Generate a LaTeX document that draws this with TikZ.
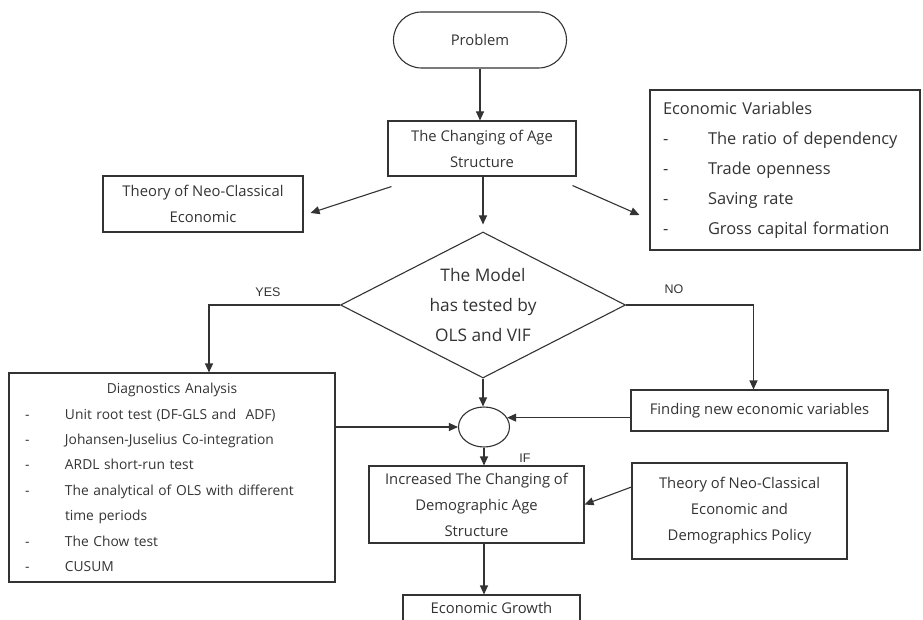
\documentclass[tikz,border=0pt]{standalone}
\usepackage{fontspec}
\setmainfont{Open Sans}
\newfontfamily\labelfont{Liberation Sans}
\usetikzlibrary{arrows.meta,shapes.geometric}

\begin{document}
\begin{tikzpicture}[x=1pt,y=-1pt,line width=1.1pt,color=black!80,
  box/.style={draw,rectangle,inner sep=0pt,align=center,font=\fontsize{14.8}{26}\selectfont},
  terminal/.style={box,rounded corners=28pt,minimum width=173pt,minimum height=56pt},
  decision/.style={draw,diamond,shape aspect=2,inner sep=0pt,minimum width=285pt,minimum height=146pt,
    align=center,font=\fontsize{17.3}{30}\selectfont},
  merge/.style={draw,ellipse,inner sep=0pt,minimum width=51pt,minimum height=40pt},
  lab/.style={font=\labelfont\fontsize{12.5}{14}\selectfont},
  arr/.style={-{Triangle[length=9pt,width=8pt]}}]
  \useasboundingbox (0,0) rectangle (923,620);

  % boxes
  \node[terminal] (problem) at (480,40) {Problem};
  \node[box,minimum width=188pt,minimum height=55pt] (age) at (482,148.5) {The Changing of Age\\Structure};
  \node[box,minimum width=200pt,minimum height=56pt] (neo) at (203,204) {Theory of Neo-Classical\\Economic};
  \node[box,align=left,text width=244pt,inner xsep=13pt,minimum height=160pt,
    font=\fontsize{16.4}{30}\selectfont] (econ) at (785,170)
    {Economic Variables\\
     \makebox[45pt][l]{-}The ratio of dependency\\
     \makebox[45pt][l]{-}Trade openness\\
     \makebox[45pt][l]{-}Saving rate\\
     \makebox[45pt][l]{-}Gross capital formation};
  \node[decision] (model) at (483,305) {The Model\\has tested by\\OLS and VIF};
  \node[box,align=left,text width=294pt,inner xsep=16pt,minimum height=209pt,
    font=\fontsize{13.8}{25.4}\selectfont] (diag) at (172,477.5)
    {\makebox[\linewidth][c]{Diagnostics Analysis}\\
     \makebox[40pt][l]{-}Unit root test (DF-GLS and~ ADF)\\
     \makebox[40pt][l]{-}Johansen-Juselius Co-integration\\
     \makebox[40pt][l]{-}ARDL short-run test\\
     \makebox[40pt][l]{-}The analytical of OLS with different\\
     \hspace*{40pt}time periods\\
     \makebox[40pt][l]{-}The Chow test\\
     \makebox[40pt][l]{-}CUSUM};
  \node[merge] (merge) at (484,427) {};
  \node[box,minimum width=257pt,minimum height=41pt] (find) at (759.5,410.5) {Finding new economic variables};
  \node[box,minimum width=215pt,minimum height=77pt] (incr) at (476.5,504.5) {Increased The Changing of\\Demographic Age\\Structure};
  \node[box,minimum width=215pt,minimum height=96pt] (demo) at (739.5,511) {Theory of Neo-Classical\\Economic and\\Demographics Policy};
  \node[box,minimum width=177pt,minimum height=26pt] (growth) at (491.5,608) {Economic Growth};

  % labels
  \node[lab] (yes) at (268,292) {YES};
  \node[lab] (no) at (674,289) {NO};
  \node[lab] (if) at (525,458) {IF};

  % connectors
  \draw[arr] (problem.south) -- (problem.south |- age.north);
  \draw[arr] ([xshift=4pt,yshift=-10pt]age.south west) -- ([xshift=7pt,yshift=-9pt]neo.east);
  \draw[arr] ([xshift=-4pt,yshift=-9pt]age.south east) -- ([xshift=-10pt,yshift=-45pt]econ.west);
  \draw[arr,shorten >=7pt] (age.south -| model.north) -- (model.north);
  \draw[arr] (model.west) -| ([xshift=37pt]diag.north);
  \draw[arr] (model.east) -| ([xshift=-6pt]find.north);
  \draw[arr] (model.south) -- (model.south |- merge.north);
  \draw[arr] (merge.west -| diag.east) -- (merge.west);
  \draw[arr] (merge.22 -| find.west) -- (merge.22);
  \draw[arr] (merge.south) -- (merge.south |- incr.north);
  \draw[arr] ([yshift=24pt]demo.west) -- (incr.east);
  \draw[arr] (merge.south |- incr.south) -- (merge.south |- growth.north);
\end{tikzpicture}
\end{document}
